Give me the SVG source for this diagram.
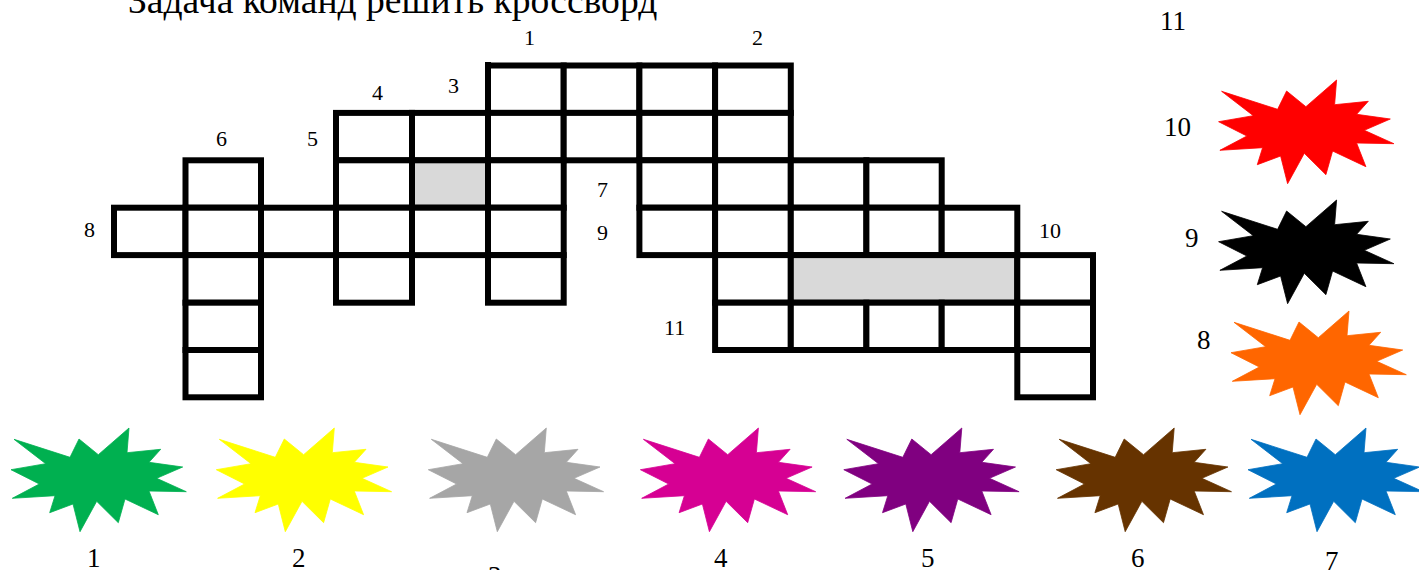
<svg xmlns="http://www.w3.org/2000/svg" xmlns:xlink="http://www.w3.org/1999/xlink" width="1419" height="570" viewBox="0 0 1419 570">
<style>
text{font-family:"Liberation Serif","Times New Roman",serif;fill:#000;stroke:none}
.c{fill:#fff;stroke:#000;stroke-width:6}
.g{fill:#d9d9d9;stroke:#000;stroke-width:6}
.s{font-size:22px}
.m{font-size:27px}
use{stroke-width:.8}
</style>
<defs>
<polygon id="star" points="14,19.3 70,37.3 79,19 98.3,34.7 129,8 127,32.7 160.7,29.3 149,42.3 182.7,47 156.7,58.3 186.3,71.7 149,71 158.3,94.7 125,79 118.3,102.7 96.7,81.3 80,111.7 73,84 49.7,92.7 55,75.7 12.3,78.3 39.3,64 11,49.7 45.7,43.7"/>
</defs>
<rect width="1419" height="570" fill="#fff"/>
<text x="128" y="13" font-size="37.6">Задача команд решить кроссворд</text>
<g id="grid">
<rect x="485" y="62" width="6" height="6"/>
<rect class="c" x="488" y="65.5" width="75.7" height="47.4"/><rect class="c" x="563.7" y="65.5" width="75.7" height="47.4"/><rect class="c" x="639.4" y="65.5" width="75.7" height="47.4"/><rect class="c" x="715.1" y="65.5" width="75.7" height="47.4"/>
<rect class="c" x="336" y="112.9" width="76" height="47.4"/><rect class="c" x="412" y="112.9" width="76" height="47.4"/><rect class="c" x="488" y="112.9" width="75.7" height="47.4"/><rect class="c" x="563.7" y="112.9" width="75.7" height="47.4"/><rect class="c" x="639.4" y="112.9" width="75.7" height="47.4"/><rect class="c" x="715.1" y="112.9" width="75.7" height="47.4"/>
<rect class="c" x="185.5" y="160.3" width="75.5" height="47.4"/><rect class="c" x="336" y="160.3" width="76" height="47.4"/><rect class="g" x="412" y="160.3" width="76" height="47.4"/><rect class="c" x="488" y="160.3" width="75.7" height="47.4"/><rect class="c" x="639.4" y="160.3" width="75.7" height="47.4"/><rect class="c" x="715.1" y="160.3" width="75.7" height="47.4"/><rect class="c" x="790.8" y="160.3" width="75.6" height="47.4"/><rect class="c" x="866.4" y="160.3" width="75.3" height="47.4"/>
<rect class="c" x="114" y="207.7" width="71.5" height="47.4"/><rect class="c" x="185.5" y="207.7" width="75.5" height="47.4"/><rect class="c" x="261" y="207.7" width="75" height="47.4"/><rect class="c" x="336" y="207.7" width="76" height="47.4"/><rect class="c" x="412" y="207.7" width="76" height="47.4"/><rect class="c" x="488" y="207.7" width="75.7" height="47.4"/><rect class="c" x="639.4" y="207.7" width="75.7" height="47.4"/><rect class="c" x="715.1" y="207.7" width="75.7" height="47.4"/><rect class="c" x="790.8" y="207.7" width="75.6" height="47.4"/><rect class="c" x="866.4" y="207.7" width="75.3" height="47.4"/><rect class="c" x="941.7" y="207.7" width="75.6" height="47.4"/>
<rect class="c" x="185.5" y="255.1" width="75.5" height="47.6"/><rect class="c" x="336" y="255.1" width="76" height="47.6"/><rect class="c" x="488" y="255.1" width="75.7" height="47.6"/><rect class="c" x="715.1" y="255.1" width="75.7" height="47.6"/><rect class="g" x="790.8" y="255.1" width="226.5" height="47.6"/><rect class="c" x="1017.3" y="255.1" width="75.7" height="47.6"/>
<rect class="c" x="185.5" y="302.7" width="75.5" height="47.3"/><rect class="c" x="715.1" y="302.7" width="75.7" height="47.3"/><rect class="c" x="790.8" y="302.7" width="75.6" height="47.3"/><rect class="c" x="866.4" y="302.7" width="75.3" height="47.3"/><rect class="c" x="941.7" y="302.7" width="75.6" height="47.3"/><rect class="c" x="1017.3" y="302.7" width="75.7" height="47.3"/>
<rect class="c" x="185.5" y="350" width="75.5" height="47.3"/><rect class="c" x="1017.3" y="350" width="75.7" height="47.3"/>
</g>
<g id="grid-labels" class="s">
<text x="524" y="45">1</text><text x="752" y="45">2</text><text x="448" y="93">3</text><text x="372" y="100">4</text><text x="307" y="146">5</text><text x="216" y="146">6</text><text x="597" y="197">7</text><text x="84" y="237">8</text><text x="597" y="240">9</text><text x="1039" y="238">10</text><text x="664" y="335">11</text>
</g>
<g id="star-1"><use href="#star" x="0" y="420" fill="#00b050" stroke="#00b050"/><text class="m" x="87" y="567">1</text></g>
<g id="star-2"><use href="#star" x="205.3" y="420" fill="#ffff00" stroke="#ffff00"/><text class="m" x="292" y="567">2</text></g>
<g id="star-3"><use href="#star" x="417.3" y="420" fill="#a6a6a6" stroke="#a6a6a6"/><text class="m" x="488" y="585">3</text></g>
<g id="star-4"><use href="#star" x="629.4" y="420" fill="#d60093" stroke="#d60093"/><text class="m" x="714" y="567">4</text></g>
<g id="star-5"><use href="#star" x="832.8" y="420" fill="#800080" stroke="#800080"/><text class="m" x="921" y="567">5</text></g>
<g id="star-6"><use href="#star" x="1045.2" y="420" fill="#663300" stroke="#663300"/><text class="m" x="1131" y="567">6</text></g>
<g id="star-7"><use href="#star" x="1237" y="420" fill="#0070c0" stroke="#0070c0"/><text class="m" x="1325" y="570">7</text></g>
<g id="star-8"><use href="#star" x="1220" y="303" fill="#ff6600" stroke="#ff6600"/><text class="m" x="1197" y="349">8</text></g>
<g id="star-9"><use href="#star" x="1207.6" y="192" fill="#000" stroke="#000"/><text class="m" x="1185" y="247">9</text></g>
<g id="star-10"><use href="#star" x="1207.6" y="72" fill="#ff0000" stroke="#ff0000"/><text class="m" x="1164" y="136">10</text></g>
<g id="label-11"><text class="m" x="1160" y="30">11</text></g>
</svg>
